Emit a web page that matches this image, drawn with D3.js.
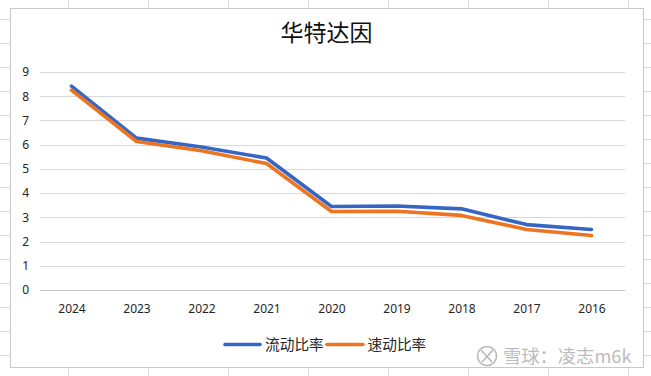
<!DOCTYPE html>
<html><head><meta charset="utf-8">
<script src="https://cdn.jsdelivr.net/npm/d3@7/dist/d3.min.js"></script>
<style>html,body{margin:0;padding:0;background:#fff;overflow:hidden}svg{display:block}text{font-family:"Noto Sans","Noto Sans CJK SC",sans-serif}</style>
</head><body><div id="c"></div>
<script>
const title = "华特达因";
const years = ["2024","2023","2022","2021","2020","2019","2018","2017","2016"];
const currentRatio = [8.42,6.27,5.9,5.45,3.45,3.47,3.35,2.7,2.5];
const quickRatio = [8.25,6.13,5.75,5.22,3.24,3.25,3.08,2.5,2.25];
const seriesNames = ["流动比率","速动比率"];
const seriesColors = ["#3566c4","#ed7521"];
const yTicks = [0,1,2,3,4,5,6,7,8,9];
const sheetCols = [68.5,148.5,228.5,308.5,388.5,468.5,548.5,628.5];
const sheetRows = [19,43,67,91,115,139,163,187,211,235,259,283,307,331,355];

const W=651,H=376;
const svg=d3.select("#c").append("svg").attr("width",W).attr("height",H);
const frame={l:10.5,t:8.5,r:643.5,b:367.5};
const m={l:40,r:625,t:72,b:290};

// spreadsheet cells behind the chart
const sheet=svg.append("g").attr("stroke","#dcdcdc").attr("stroke-width",1);
sheet.selectAll("line.c").data(sheetCols).join("line").attr("class","c")
  .attr("x1",d=>d).attr("x2",d=>d).attr("y1",0).attr("y2",H);
sheet.selectAll("line.r").data(sheetRows).join("line").attr("class","r")
  .attr("x1",0).attr("x2",W).attr("y1",d=>d+.5).attr("y2",d=>d+.5);
svg.append("rect").attr("x",frame.l).attr("y",frame.t).attr("width",frame.r-frame.l).attr("height",frame.b-frame.t)
  .attr("fill","#fff").attr("stroke","#c8c8c8").attr("stroke-width",1);

const x=d3.scalePoint().domain(years).range([m.l-1,m.r-1]).padding(0.5);
const y=d3.scaleLinear().domain([0,9]).range([m.b,m.t]);

svg.append("g").selectAll("line").data(yTicks).join("line")
  .attr("x1",m.l).attr("x2",m.r)
  .attr("y1",d=>Math.round(y(d))+.5).attr("y2",d=>Math.round(y(d))+.5)
  .attr("stroke",d=>d===0?"#c4c4c4":"#d9d9d9").attr("stroke-width",1);

const yAxis=d3.axisLeft(y).tickValues(yTicks).tickSize(0).tickPadding(11);
const gy=svg.append("g").attr("transform",`translate(${m.l},0)`).call(yAxis);
gy.select(".domain").remove();
gy.selectAll("text").attr("font-size",12).attr("fill","#262626");
const xAxis=d3.axisBottom(x).tickSize(0).tickPadding(14);
const gx=svg.append("g").attr("transform",`translate(0,${m.b})`).call(xAxis);
gx.select(".domain").remove();
gx.selectAll("text").attr("font-size",12).attr("fill","#262626");

const line=d3.line().x((d,i)=>x(years[i])).y(d=>y(d));
[currentRatio,quickRatio].forEach((vals,i)=>{
  svg.append("path").datum(vals).attr("d",line).attr("fill","none")
    .attr("stroke",seriesColors[i]).attr("stroke-width",3.6).attr("stroke-linejoin","round").attr("stroke-linecap","round");
});

svg.append("text").attr("x",326.5).attr("y",41).attr("text-anchor","middle")
  .attr("font-size",23).attr("fill","#111").style("font-family",'"Noto Sans CJK SC",serif').text(title);

const legX=[[225,260,265],[327,363,367.5]];
seriesNames.forEach((n,i)=>{
  svg.append("line").attr("x1",legX[i][0]).attr("x2",legX[i][1]).attr("y1",344.5).attr("y2",344.5)
    .attr("stroke",seriesColors[i]).attr("stroke-width",3.6).attr("stroke-linecap","round");
  svg.append("text").attr("x",legX[i][2]).attr("y",349.5).attr("font-size",14.7).attr("fill","#262626")
    .style("font-family",'"Noto Sans CJK SC",sans-serif').text(n);
});

// watermark
const wm=svg.append("g").attr("fill","none").attr("stroke","#b8b8b8").attr("stroke-width",1.6);
wm.append("circle").attr("cx",487).attr("cy",356).attr("r",9.5);
wm.append("path").attr("d","M481 350L492 362M493 350L482 362");
svg.append("text").attr("x",503).attr("y",363).attr("font-size",18.3).attr("fill","#bcbcbc")
  .style("font-family",'"Noto Sans CJK SC",sans-serif').text("雪球：凌志m6k");
</script></body></html>
